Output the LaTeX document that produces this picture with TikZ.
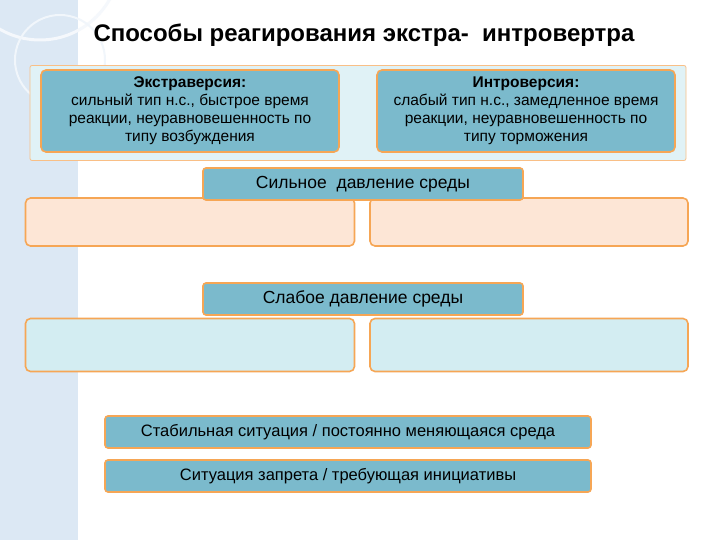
\documentclass[tikz,border=0pt]{standalone}
\usepackage{fontspec}
\setmainfont{Liberation Sans}
\begin{document}
\begin{tikzpicture}[x=1pt,y=-1pt,
  bl/.style={draw=orange!80!brown!70, line width=1.6pt, rounded corners=5pt, fill=boxblue, align=center, font=\fontsize{15.5}{18}\selectfont},
  hd/.style={draw=orange!80!brown!70, line width=1.6pt, rounded corners=3pt, fill=boxblue, font=\fontsize{17.5}{20}\selectfont},
  pe/.style={draw=orange!80!brown!70, line width=1.6pt, rounded corners=5pt, fill=peach},
  lc/.style={draw=orange!80!brown!70, line width=1.6pt, rounded corners=5pt, fill=lightcy}]
\definecolor{boxblue}{HTML}{7BBACC}
\definecolor{peach}{HTML}{FDE6D6}
\definecolor{lightcy}{HTML}{D3EDF2}
\definecolor{strip}{HTML}{DCE8F4}
\useasboundingbox (0,0) rectangle (720,540);
\fill[white] (0,0) rectangle (720,540);
\fill[strip] (0,0) rectangle (78,540);
\draw[white, line width=1pt] (78,0) -- (78,540);
\draw[white!70!strip, line width=3pt] (40,-40) circle (80);
\draw[white!60!strip, line width=2pt] (60,60) circle (45);
\node[font=\bfseries\fontsize{24}{28}\selectfont, anchor=west] (title) at (90,35) {Способы реагирования экстра-\ \ интровертра};
\node[draw=orange!80!brown!50, line width=0.8pt, fill=lightcy!70!white, minimum width=656pt, minimum height=95pt, rounded corners=2pt] (frame) at (358,113) {};
\node[bl, minimum width=298pt, minimum height=82pt] (ext) at (190,111) {\textbf{Экстраверсия:}\\сильный тип н.с., быстрое время\\реакции, неуравновешенность по\\типу возбуждения};
\node[bl, minimum width=298pt, minimum height=82pt] (int) at (526,111) {\textbf{Интроверсия:}\\слабый тип н.с., замедленное время\\реакции, неуравновешенность по\\типу торможения};
\node[pe, minimum width=329pt, minimum height=48pt] (p1) at (190,222) {};
\node[pe, minimum width=318pt, minimum height=48pt] (p2) at (529,222) {};
\node[hd, minimum width=320pt, minimum height=32pt] (s1) at (363,184) {Сильное\ \ давление среды};
\node[lc, minimum width=329pt, minimum height=53pt] (l1) at (190,345) {};
\node[lc, minimum width=318pt, minimum height=53pt] (l2) at (529,345) {};
\node[hd, minimum width=320pt, minimum height=32pt] (s2) at (363,299) {Слабое давление среды};
\node[hd, minimum width=486pt, minimum height=32pt, font=\fontsize{16.5}{19}\selectfont] (b1) at (348,432) {Стабильная ситуация / постоянно меняющаяся среда};
\node[hd, minimum width=486pt, minimum height=32pt, font=\fontsize{16.5}{19}\selectfont] (b2) at (348,476) {Ситуация запрета / требующая инициативы};
\end{tikzpicture}
\end{document}
